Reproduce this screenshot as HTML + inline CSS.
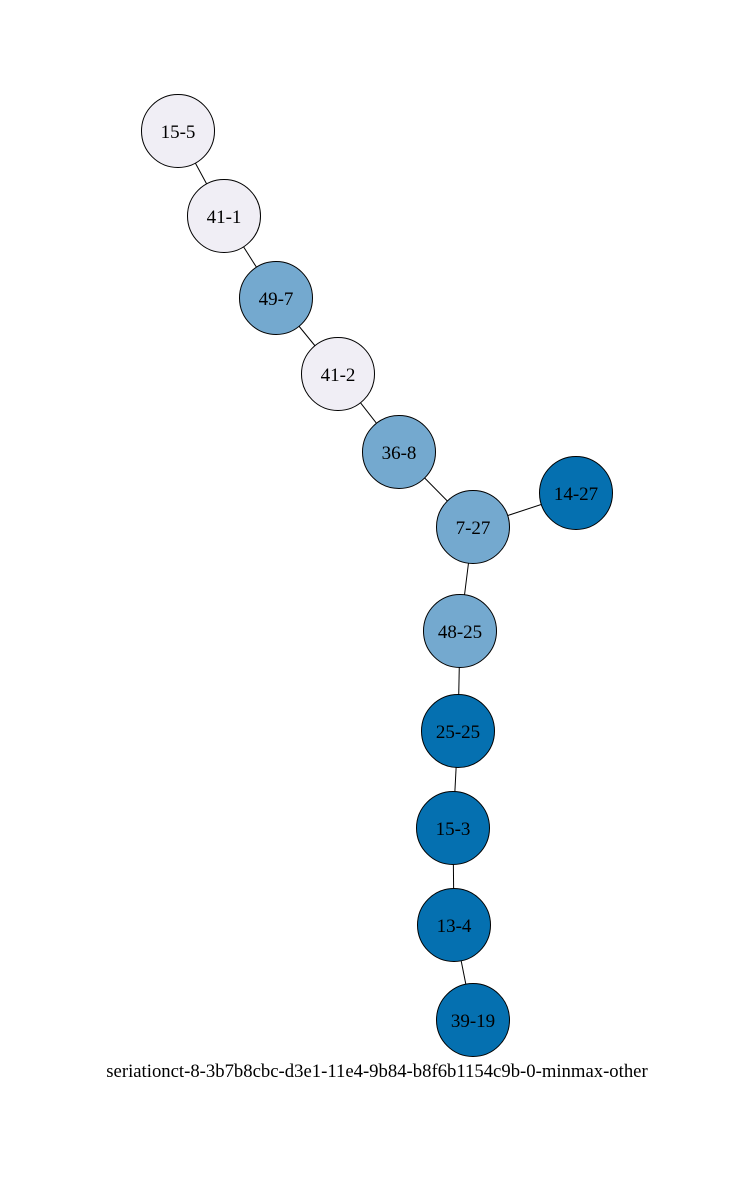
<!DOCTYPE html>
<html><head><meta charset="utf-8"><style>html,body{margin:0;padding:0;background:#fff}</style></head>
<body>
<svg width="754" height="1182" xmlns="http://www.w3.org/2000/svg" font-family="'Liberation Serif', serif" font-size="19">
<g stroke="#000" stroke-width="1">
<line x1="178" y1="131" x2="224" y2="216"/>
<line x1="224" y1="216" x2="276" y2="298"/>
<line x1="276" y1="298" x2="338" y2="374"/>
<line x1="338" y1="374" x2="399" y2="452"/>
<line x1="399" y1="452" x2="473" y2="527"/>
<line x1="473" y1="527" x2="576" y2="493"/>
<line x1="473" y1="527" x2="460" y2="631"/>
<line x1="460" y1="631" x2="458" y2="731"/>
<line x1="458" y1="731" x2="453" y2="828"/>
<line x1="453" y1="828" x2="454" y2="925"/>
<line x1="454" y1="925" x2="473" y2="1020"/>
</g>
<g stroke="#000" stroke-width="1">
<circle cx="178" cy="131" r="36.5" fill="#f0eef5"/>
<circle cx="224" cy="216" r="36.5" fill="#f0eef5"/>
<circle cx="276" cy="298" r="36.5" fill="#74a9cf"/>
<circle cx="338" cy="374" r="36.5" fill="#f0eef5"/>
<circle cx="399" cy="452" r="36.5" fill="#74a9cf"/>
<circle cx="473" cy="527" r="36.5" fill="#74a9cf"/>
<circle cx="576" cy="493" r="36.5" fill="#0570b0"/>
<circle cx="460" cy="631" r="36.5" fill="#74a9cf"/>
<circle cx="458" cy="731" r="36.5" fill="#0570b0"/>
<circle cx="453" cy="828" r="36.5" fill="#0570b0"/>
<circle cx="454" cy="925" r="36.5" fill="#0570b0"/>
<circle cx="473" cy="1020" r="36.5" fill="#0570b0"/>
</g>
<g text-anchor="middle" fill="#000">
<text x="178" y="138">15-5</text>
<text x="224" y="223">41-1</text>
<text x="276" y="305">49-7</text>
<text x="338" y="381">41-2</text>
<text x="399" y="459">36-8</text>
<text x="473" y="534">7-27</text>
<text x="576" y="500">14-27</text>
<text x="460" y="638">48-25</text>
<text x="458" y="738">25-25</text>
<text x="453" y="835">15-3</text>
<text x="454" y="932">13-4</text>
<text x="473" y="1027">39-19</text>
<text x="377" y="1077" font-size="18.7">seriationct-8-3b7b8cbc-d3e1-11e4-9b84-b8f6b1154c9b-0-minmax-other</text>
</g>
</svg>
</body></html>
